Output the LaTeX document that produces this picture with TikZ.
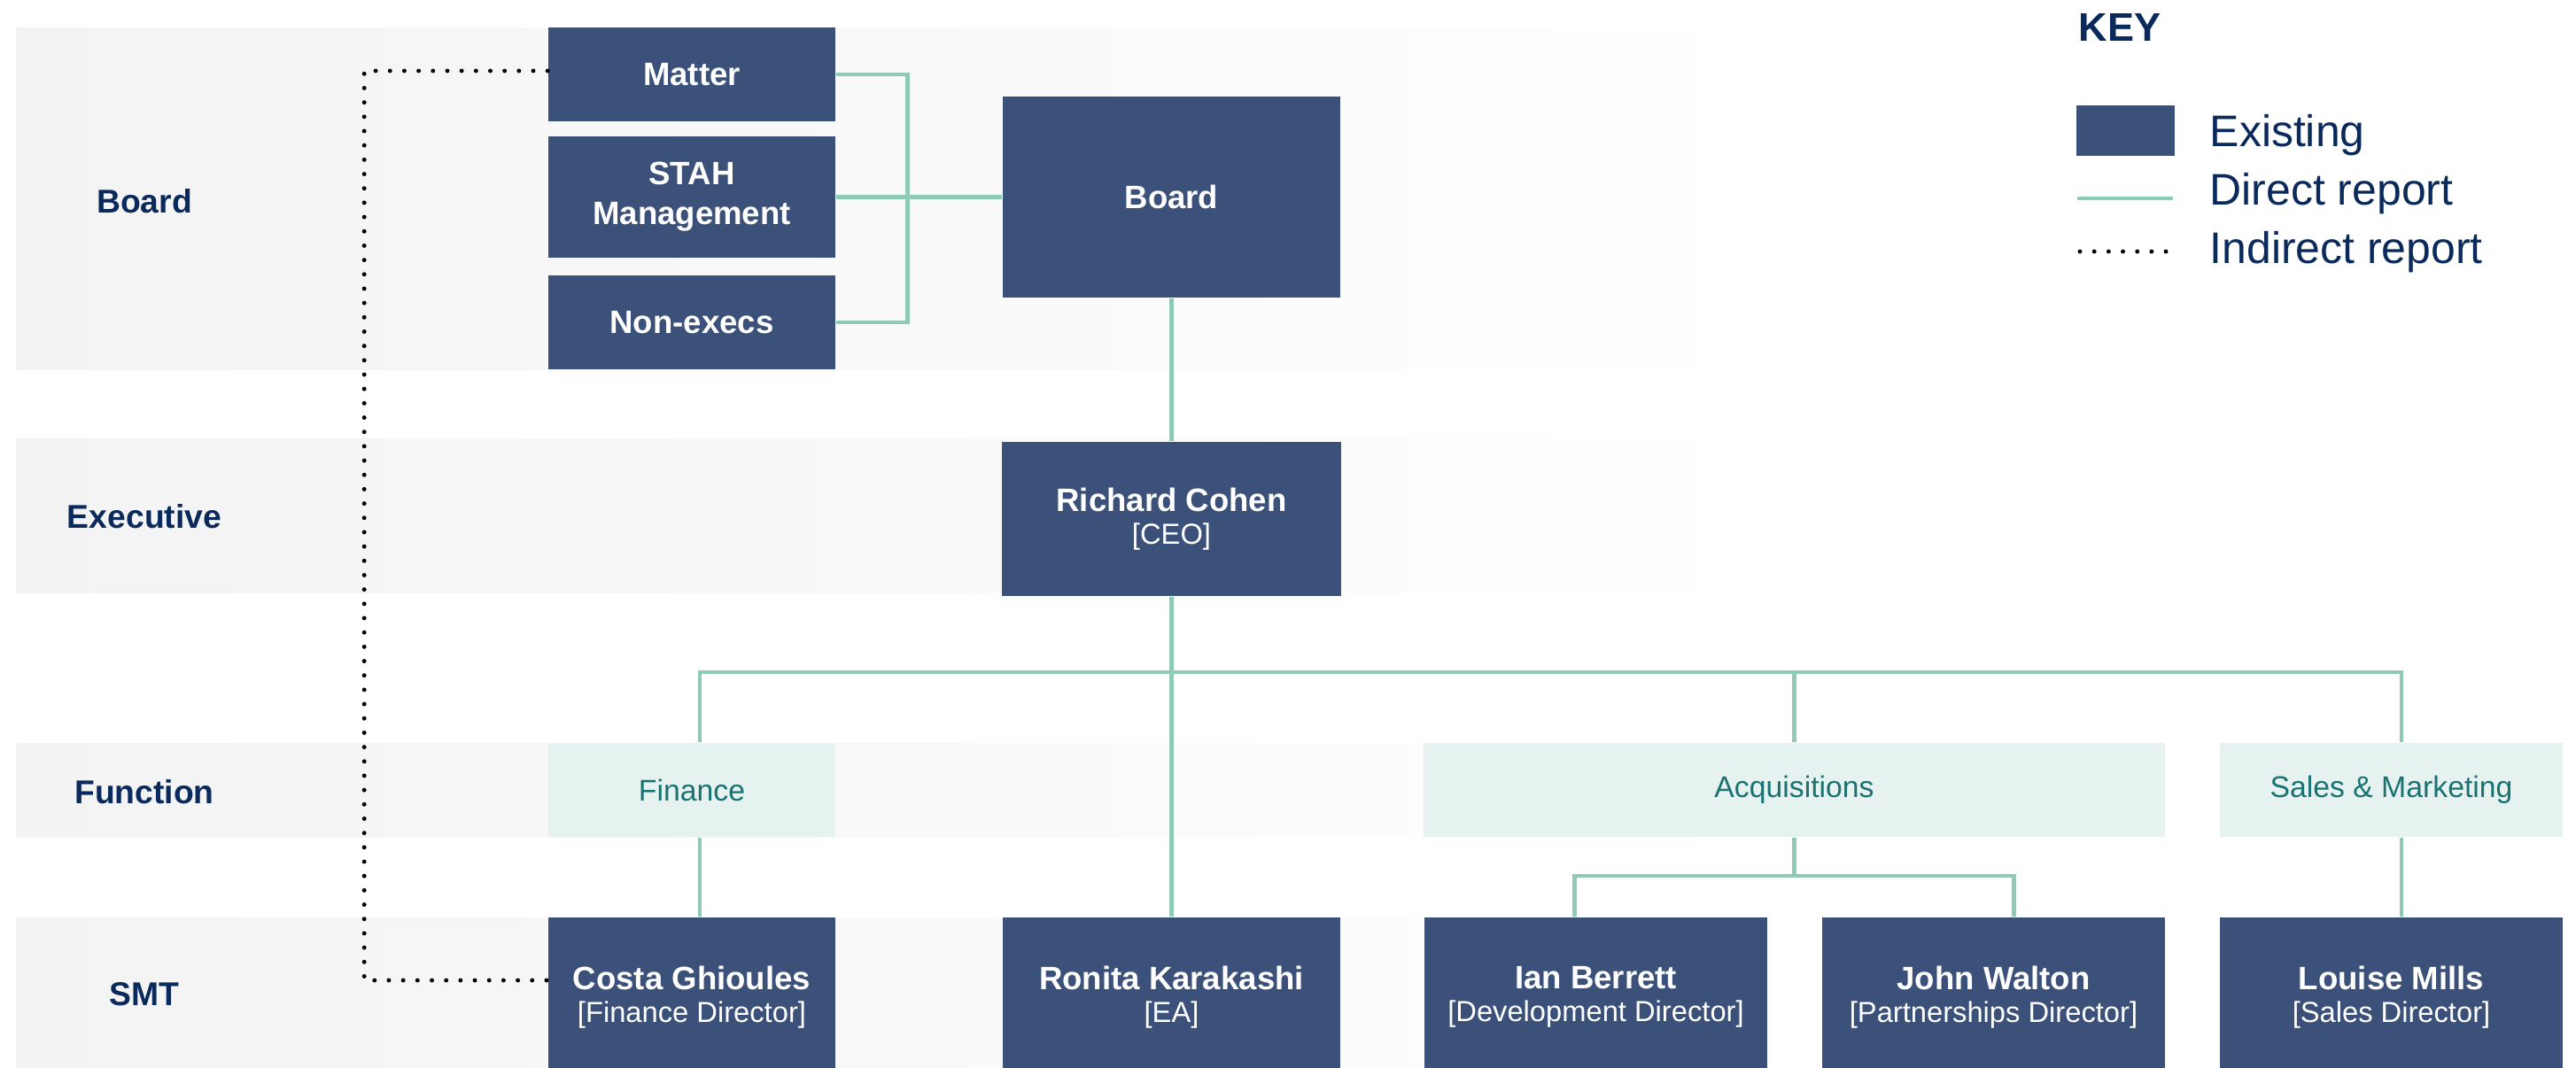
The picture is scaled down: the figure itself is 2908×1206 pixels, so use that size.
\documentclass[tikz,border=0pt]{standalone}
\usepackage{fontspec}
\setmainfont{Liberation Sans}
\usetikzlibrary{positioning, calc}
\definecolor{BoxNavy}{HTML}{3B5179}
\definecolor{LinkGreen}{HTML}{8FCAB7}
\definecolor{FuncMint}{HTML}{E6F2EF}
\definecolor{FuncTeal}{HTML}{1A7272}
\definecolor{InkNavy}{HTML}{0B2A5C}
\definecolor{BandGrey}{HTML}{F3F3F3}
\newcommand{\NameFont}{\bfseries\fontsize{10.4pt}{10.6pt}\selectfont}
\newcommand{\RoleFont}{\mdseries\fontsize{9.3pt}{10.6pt}\selectfont}
\newcommand{\Person}[2]{{\NameFont #1}\\{\RoleFont #2}}
\tikzset{
  staffbox/.style={fill=BoxNavy, text=white, inner sep=0pt, align=center, font=\NameFont},
  funcbox/.style={fill=FuncMint, text=FuncTeal, inner sep=0pt, minimum height=1.06cm,
    font=\fontsize{9.6pt}{11pt}\selectfont},
  tierband/.style={left color=BandGrey, right color=white, draw=none},
  tierlabel/.style={text=InkNavy, font=\bfseries\fontsize{10.6pt}{12pt}\selectfont},
  directline/.style={draw=LinkGreen, line width=1.4pt},
  indirectline/.style={draw=black, line width=1.4pt, line cap=round, dash pattern=on 0pt off 4.6pt},
  keytext/.style={text=InkNavy, anchor=base west, inner sep=0pt, font=\fontsize{14.2pt}{16pt}\selectfont}
}

\begin{document}
\begin{tikzpicture}[x=0.01cm, y=-0.01cm]
  \path[use as bounding box, fill=white] (0,0) rectangle (2908,1206);
  % tier bands
  \shade[tierband] (18,31) rectangle (2000,417);
  \shade[tierband] (18,495) rectangle (2000,669);
  \shade[tierband] (18,839) rectangle (2000,945);
  \shade[tierband] (18,1036) rectangle (2000,1206);
  \node[tierlabel] (lblboard) at (163,227) {Board};
  \node[tierlabel] (lblexec) at (163,583) {Executive};
  \node[tierlabel] (lblfunc) at (163,894) {Function};
  \node[tierlabel] (lblsmt) at (163,1123) {SMT};

  % board tier
  \node[staffbox, minimum width=3.24cm, minimum height=1.06cm] (matter) at (781,84) {Matter};
  \node[staffbox, minimum width=3.24cm, minimum height=1.37cm,
    font=\bfseries\fontsize{10.4pt}{12.8pt}\selectfont] (stah) at (781,222.5) {STAH\\Management};
  \node[staffbox, minimum width=3.24cm, minimum height=1.06cm] (nonexec) at (781,364) {Non-execs};
  \node[staffbox, minimum width=3.81cm, minimum height=2.27cm] (board) at (1322.5,222.5) {Board};

  % executive
  \node[staffbox, minimum width=3.82cm, minimum height=1.74cm] (ceo) at (1322.5,586)
    {\Person{Richard Cohen}{[CEO]}};

  % functions
  \node[funcbox, minimum width=3.24cm] (finance) at (781,892) {Finance};
  \node[funcbox, minimum width=8.37cm] (acq) at (2025.5,892) {Acquisitions};
  \node[funcbox, minimum width=3.87cm] (sales) at (2699.5,892) {Sales \& Marketing};

  % smt
  \node[staffbox, minimum width=3.24cm, minimum height=1.8cm] (costa) at (781,1126)
    {\Person{Costa Ghioules}{[Finance Director]}};
  \node[staffbox, minimum width=3.81cm, minimum height=1.8cm] (ronita) at (1322.5,1126)
    {\Person{Ronita Karakashi}{[EA]}};
  \node[staffbox, minimum width=3.87cm, minimum height=1.8cm] (ian) at (1801.5,1126)
    {\Person{Ian Berrett}{[Development Director]}};
  \node[staffbox, minimum width=3.87cm, minimum height=1.8cm] (john) at (2250.5,1126)
    {\Person{John Walton}{[Partnerships Director]}};
  \node[staffbox, minimum width=3.87cm, minimum height=1.8cm] (louise) at (2699.5,1126)
    {\Person{Louise Mills}{[Sales Director]}};

  % direct reports
  \draw[directline] (matter.east) -- ++(81,0) |- (nonexec.east);
  \draw[directline] (stah.east) -- (board.west);
  \draw[directline] (board.south) -- (ceo.north);
  \draw[directline] (ceo.south) -- (ronita.north);
  \coordinate (bus) at (1322.5,759);
  \draw[directline] ([xshift=0.09cm]finance.north) |- (bus) -| ([xshift=0.115cm]sales.north);
  \draw[directline] (acq.north) -- (acq.north |- bus);
  \draw[directline] ([xshift=0.09cm]finance.south) -- ([xshift=0.09cm]costa.north);
  \draw[directline] ([xshift=0.115cm]sales.south) -- ([xshift=0.115cm]louise.north);
  \coordinate (acqbus) at (2025.5,989);
  \draw[directline] (acq.south) -- (acqbus);
  \draw[directline] ([xshift=-0.24cm]ian.north) |- (acqbus) -| ([xshift=0.23cm]john.north);

  % indirect report
  \draw[indirectline] ([yshift=0.04cm]matter.west) -- ++(-207,0) |- ([yshift=0.19cm]costa.west);

  % key
  \node[text=InkNavy, anchor=base west, inner sep=0pt,
    font=\bfseries\fontsize{12.8pt}{14pt}\selectfont] (keyhead) at (2346,46) {KEY};
  \node[fill=BoxNavy, inner sep=0pt, minimum width=1.11cm, minimum height=0.57cm] (keybox) at (2399.5,147.5) {};
  \coordinate (keydirA) at (2345,224);
  \coordinate (keydirB) at (2453,224);
  \draw[directline] (keydirA) -- (keydirB);
  \coordinate (keyindA) at (2348,284);
  \coordinate (keyindB) at (2450,284);
  \draw[indirectline] (keyindA) -- (keyindB);
  \node[keytext] (keyexist) at (2494,165) {Existing};
  \node[keytext] (keydirect) at (2494,231) {Direct report};
  \node[keytext] (keyindirect) at (2494,297) {Indirect report};
\end{tikzpicture}
\end{document}
